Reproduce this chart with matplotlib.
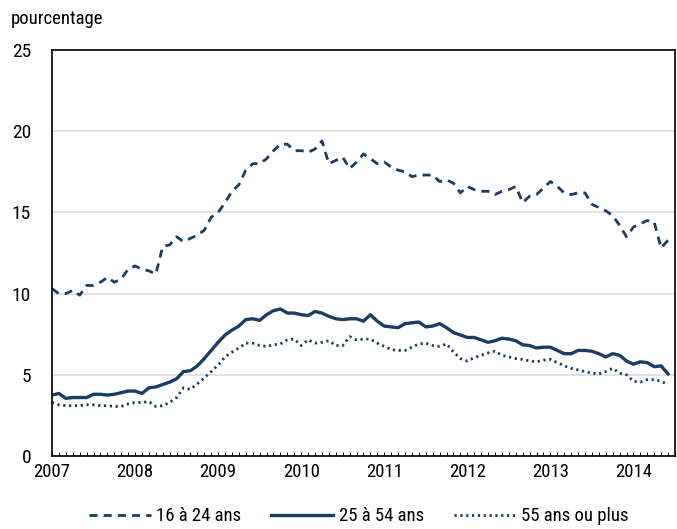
import matplotlib
matplotlib.use("Agg")
import matplotlib.pyplot as plt
import numpy as np

plt.rcParams['font.family'] = ['Roboto Condensed', 'DejaVu Sans']

# monthly values, January 2007 to June 2014
years = ["2007", "2008", "2009", "2010", "2011", "2012", "2013", "2014"]

youth = [10.3, 10.0, 10.0, 10.2, 9.9, 10.5, 10.5, 10.7, 11.0, 10.7, 10.9, 11.5,
         11.7, 11.5, 11.4, 11.2, 12.9, 13.0, 13.5, 13.2, 13.4, 13.6, 13.9, 14.7,
         15.0, 15.6, 16.3, 16.7, 17.6, 18.0, 18.0, 18.3, 18.8, 19.2, 19.2, 18.8,
         18.8, 18.7, 18.9, 19.4, 18.0, 18.2, 18.4, 17.7, 18.1, 18.6, 18.3, 18.0,
         18.1, 17.8, 17.6, 17.5, 17.2, 17.3, 17.3, 17.3, 16.9, 17.0, 16.8, 16.2,
         16.6, 16.4, 16.3, 16.3, 16.1, 16.3, 16.4, 16.6, 15.6, 16.0, 16.1, 16.5,
         16.9, 16.6, 16.2, 16.1, 16.2, 16.2, 15.5, 15.3, 15.1, 14.8, 14.2, 13.5,
         14.1, 14.3, 14.5, 14.4, 12.8, 13.3]

core = [3.75, 3.85, 3.55, 3.6, 3.6, 3.6, 3.8, 3.8, 3.75, 3.8, 3.9, 4.0,
        4.0, 3.85, 4.2, 4.25, 4.4, 4.55, 4.75, 5.2, 5.25, 5.55, 6.0, 6.5,
        7.0, 7.45, 7.75, 8.0, 8.4, 8.45, 8.35, 8.7, 8.95, 9.05, 8.8, 8.8,
        8.7, 8.65, 8.9, 8.8, 8.6, 8.45, 8.4, 8.45, 8.45, 8.3, 8.7, 8.3,
        8.0, 7.95, 7.9, 8.15, 8.2, 8.25, 7.95, 8.0, 8.15, 7.9, 7.6, 7.45,
        7.3, 7.3, 7.15, 7.0, 7.1, 7.25, 7.2, 7.1, 6.85, 6.8, 6.65, 6.7,
        6.7, 6.5, 6.3, 6.3, 6.5, 6.5, 6.45, 6.3, 6.1, 6.3, 6.2, 5.85,
        5.65, 5.8, 5.75, 5.5, 5.55, 5.05]

older = [3.3, 3.15, 3.1, 3.1, 3.1, 3.15, 3.15, 3.1, 3.1, 3.05, 3.05, 3.2,
         3.3, 3.3, 3.35, 3.05, 3.1, 3.3, 3.6, 4.2, 4.1, 4.45, 4.8, 5.2,
         5.6, 6.1, 6.4, 6.65, 6.95, 6.95, 6.8, 6.75, 6.85, 6.9, 7.15, 7.2,
         6.8, 7.15, 6.95, 7.0, 7.1, 6.8, 6.8, 7.35, 7.15, 7.2, 7.2, 6.95,
         6.75, 6.55, 6.5, 6.5, 6.7, 6.9, 6.95, 6.8, 6.75, 6.9, 6.4, 6.0,
         5.85, 6.05, 6.2, 6.35, 6.45, 6.2, 6.1, 6.0, 5.95, 5.85, 5.8, 5.9,
         5.95, 5.75, 5.55, 5.4, 5.3, 5.2, 5.1, 5.05, 5.2, 5.4, 5.1, 5.0,
         4.6, 4.55, 4.7, 4.7, 4.6, 4.4]

labels = ["16 à 24 ans", "25 à 54 ans", "55 ans ou plus"]
color = "#1b3d63"

months = np.arange(len(core))

fig = plt.figure(figsize=(6.77, 5.29), dpi=100)
ax = fig.add_axes([0.0768, 0.138, 0.9202, 0.7675])

ax.plot(months, youth, color=color, lw=2, dashes=(2.9, 2.2), label=labels[0])
ax.plot(months, core, color=color, lw=2.4, label=labels[1])
ax.plot(months, older, color=color, lw=2, dashes=(0.8, 1.3), label=labels[2])

ax.set_xlim(0, 90)
ax.set_ylim(0, 25)
ax.set_yticks([0, 5, 10, 15, 20, 25])
ax.yaxis.grid(True, color="#dcdcdc", lw=1.2)
ax.set_axisbelow(True)
ax.tick_params(axis="y", length=0, pad=15, labelsize=14)

ax.set_xticks(np.arange(0, 90, 12))
ax.set_xticklabels(years)
ax.set_xticks(np.arange(0, 91), minor=True)
ax.tick_params(axis="x", which="both", direction="in", length=3, width=0.8,
               labelsize=13.5, pad=5)

for s in ax.spines.values():
    s.set_linewidth(1.2)

fig.text(0.016, 0.965, "pourcentage", fontsize=13.5, va="center")

fig.legend(loc="lower center", bbox_to_anchor=(0.53, -0.025), ncol=3,
           frameon=False, fontsize=13.5, handlelength=3.3, handletextpad=0.3,
           columnspacing=1.6)

fig.savefig("out.png", dpi=100)
